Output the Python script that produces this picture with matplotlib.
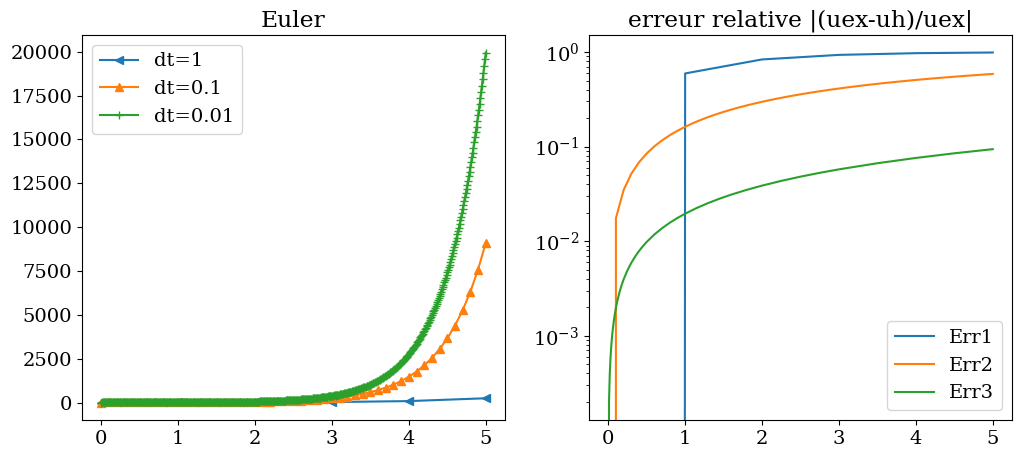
import numpy as np
import matplotlib
matplotlib.use("Agg")
import matplotlib.pyplot as plt

plt.rcParams['font.family'] = 'serif'
plt.rcParams['font.size'] = 14
plt.rcParams['mathtext.fontset'] = 'dejavuserif'

# Euler, dt=1
u1 = [1, 3, 9, 27, 81, 243]
err1 = [0, 0.593994, 0.835160, 0.933074, 0.972828, 0.988968]

# Euler, dt=0.1
u2 = [1, 1.2, 1.44, 1.728, 2.0736, 2.48832, 2.985984, 3.583181, 4.299817, 5.159780,
      6.191736, 7.430084, 8.916100, 10.69932, 12.83918, 15.40702, 18.48843, 22.18611,
      26.62333, 31.94800, 38.33760, 46.00512, 55.20614, 66.24737, 79.49685, 95.39622,
      114.4755, 137.3706, 164.8447, 197.8136, 237.3763, 284.8516, 341.8219, 410.1863,
      492.2235, 590.6682, 708.8019, 850.5622, 1020.675, 1224.810, 1469.772, 1763.726,
      2116.471, 2539.765, 3047.718, 3657.262, 4388.714, 5266.457, 6319.749, 7583.698,
      9100.438]
err2 = [0, 0.017523, 0.034739, 0.051653, 0.068271, 0.084597, 0.100636, 0.116395,
        0.131878, 0.147093, 0.162038, 0.176722, 0.191149, 0.205322, 0.219247, 0.232929,
        0.246370, 0.259576, 0.272551, 0.285298, 0.297822, 0.310126, 0.322215, 0.334092,
        0.345761, 0.357225, 0.368489, 0.379555, 0.390427, 0.401109, 0.411603, 0.421914,
        0.432044, 0.441996, 0.451774, 0.461381, 0.470819, 0.480092, 0.489203, 0.498154,
        0.506948, 0.515588, 0.524076, 0.532416, 0.540609, 0.548659, 0.556568, 0.564339,
        0.571973, 0.579473, 0.586842]

# Euler, dt=0.01
u3 = [1, 1.02, 1.0404, 1.0612, 1.0824, 1.1041, 1.1262, 1.1487, 1.1717, 1.1951,
      1.2190, 1.2434, 1.2682, 1.2936, 1.3195, 1.3459, 1.3728, 1.4002, 1.4282, 1.4568,
      1.4859, 1.5157, 1.5460, 1.5769, 1.6084, 1.6406, 1.6734, 1.7069, 1.7410, 1.7758,
      1.8114, 1.8476, 1.8845, 1.9222, 1.9607, 1.9999, 2.0399, 2.0807, 2.1223, 2.1647,
      2.2080, 2.2522, 2.2972, 2.3432, 2.3901, 2.4379, 2.4866, 2.5363, 2.5871, 2.6388,
      2.6916, 2.7454, 2.8003, 2.8563, 2.9135, 2.9717, 3.0312, 3.0918, 3.1536, 3.2167,
      3.2810, 3.3467, 3.4136, 3.4819, 3.5515, 3.6225, 3.6950, 3.7689, 3.8443, 3.9211,
      3.9996, 4.0795, 4.1611, 4.2444, 4.3293, 4.4158, 4.5042, 4.5942, 4.6861, 4.7798,
      4.8754, 4.9729, 5.0724, 5.1739, 5.2773, 5.3829, 5.4905, 5.6003, 5.7124, 5.8266,
      5.9431, 6.0620, 6.1832, 6.3069, 6.4330, 6.5617, 6.6929, 6.8268, 6.9633, 7.1026,
      7.2446, 7.3895, 7.5373, 7.6881, 7.8418, 7.9987, 8.1586, 8.3218, 8.4883, 8.6580,
      8.8312, 9.0078, 9.1880, 9.3717, 9.5592, 9.7503, 9.9453, 10.144, 10.347, 10.554,
      10.765, 10.980, 11.200, 11.424, 11.653, 11.886, 12.123, 12.366, 12.613, 12.865,
      13.123, 13.385, 13.653, 13.926, 14.204, 14.488, 14.778, 15.074, 15.375, 15.683,
      15.996, 16.316, 16.643, 16.976, 17.315, 17.661, 18.015, 18.375, 18.742, 19.117,
      19.500, 19.890, 20.287, 20.693, 21.107, 21.529, 21.960, 22.399, 22.847, 23.304,
      23.770, 24.245, 24.730, 25.225, 25.729, 26.244, 26.769, 27.304, 27.850, 28.407,
      28.975, 29.555, 30.146, 30.749, 31.364, 31.991, 32.631, 33.284, 33.949, 34.628,
      35.321, 36.027, 36.748, 37.483, 38.232, 38.997, 39.777, 40.572, 41.384, 42.212,
      43.056, 43.917, 44.795, 45.691, 46.605, 47.537, 48.488, 49.458, 50.447, 51.456,
      52.485, 53.534, 54.605, 55.697, 56.811, 57.947, 59.106, 60.288, 61.494, 62.724,
      63.979, 65.258, 66.563, 67.895, 69.252, 70.637, 72.050, 73.491, 74.961, 76.460,
      77.989, 79.549, 81.140, 82.763, 84.418, 86.107, 87.829, 89.585, 91.377, 93.205,
      95.069, 96.970, 98.909, 100.89, 102.91, 104.96, 107.06, 109.20, 111.39, 113.62,
      115.89, 118.21, 120.57, 122.98, 125.44, 127.95, 130.51, 133.12, 135.78, 138.50,
      141.27, 144.09, 146.97, 149.91, 152.91, 155.97, 159.09, 162.27, 165.52, 168.83,
      172.20, 175.65, 179.16, 182.74, 186.40, 190.13, 193.93, 197.81, 201.76, 205.80,
      209.92, 214.11, 218.40, 222.76, 227.22, 231.76, 236.40, 241.13, 245.95, 250.87,
      255.89, 261.00, 266.22, 271.55, 276.98, 282.52, 288.17, 293.93, 299.81, 305.81,
      311.92, 318.16, 324.52, 331.01, 337.64, 344.39, 351.28, 358.30, 365.47, 372.78,
      380.23, 387.84, 395.59, 403.51, 411.58, 419.81, 428.20, 436.77, 445.50, 454.41,
      463.50, 472.77, 482.23, 491.87, 501.71, 511.74, 521.98, 532.42, 543.06, 553.93,
      565.00, 576.30, 587.83, 599.59, 611.58, 623.81, 636.29, 649.01, 661.99, 675.23,
      688.74, 702.51, 716.56, 730.89, 745.51, 760.42, 775.63, 791.14, 806.96, 823.10,
      839.57, 856.36, 873.48, 890.95, 908.77, 926.95, 945.49, 964.40, 983.69, 1003.4,
      1023.4, 1043.9, 1064.8, 1086.1, 1107.8, 1130.0, 1152.6, 1175.6, 1199.1, 1223.1,
      1247.6, 1272.5, 1298.0, 1323.9, 1350.4, 1377.4, 1405.0, 1433.1, 1461.7, 1490.9,
      1520.8, 1551.2, 1582.2, 1613.8, 1646.1, 1679.0, 1712.6, 1746.9, 1781.8, 1817.5,
      1853.8, 1890.9, 1928.7, 1967.3, 2006.6, 2046.7, 2087.7, 2129.4, 2172.0, 2215.5,
      2259.8, 2305.0, 2351.1, 2398.1, 2446.1, 2495.0, 2544.9, 2595.8, 2647.7, 2700.6,
      2754.7, 2809.7, 2865.9, 2923.3, 2981.7, 3041.4, 3102.2, 3164.2, 3227.5, 3292.1,
      3357.9, 3425.1, 3493.6, 3563.4, 3634.7, 3707.4, 3781.5, 3857.2, 3934.3, 4013.0,
      4093.3, 4175.1, 4258.6, 4343.8, 4430.7, 4519.3, 4609.7, 4701.9, 4795.9, 4891.8,
      4989.7, 5089.5, 5191.2, 5295.1, 5401.0, 5509.0, 5619.2, 5731.6, 5846.2, 5963.1,
      6082.4, 6204.0, 6328.1, 6454.7, 6583.7, 6715.4, 6849.7, 6986.7, 7126.5, 7269.0,
      7414.4, 7562.7, 7713.9, 7868.2, 8025.6, 8186.1, 8349.8, 8516.8, 8687.1, 8860.9,
      9038.1, 9218.9, 9403.2, 9591.3, 9783.1, 9978.8, 10178, 10382, 10590, 10801,
      11017, 11238, 11462, 11692, 11926, 12164, 12407, 12656, 12909, 13167,
      13430, 13699, 13973, 14252, 14537, 14828, 15125, 15427, 15736, 16050,
      16371, 16699, 17033, 17373, 17721, 18075, 18437, 18805, 19182, 19565,
      19957]

# relative error for dt=0.01
t_err3 = [0, 0.01, 0.02, 0.03, 0.04, 0.05, 0.06, 0.07, 0.085, 0.1, 0.12, 0.15, 0.175,
          0.2, 0.25, 0.3, 0.35, 0.4, 0.45, 0.5, 0.6, 0.7, 0.8, 0.9, 1.0, 1.15, 1.3,
          1.45, 1.6, 1.8, 2.0, 2.25, 2.5, 2.75, 3.0, 3.5, 4.0, 4.5, 5.0]
err3 = [0, 0.000197, 0.000395, 0.000592, 0.000789, 0.000986, 0.001184, 0.001380,
        0.001676, 0.001972, 0.002366, 0.002956, 0.003448, 0.003940, 0.004922,
        0.005904, 0.006884, 0.007864, 0.008842, 0.009820, 0.011772, 0.013720,
        0.015666, 0.017607, 0.019543, 0.022442, 0.025332, 0.028213, 0.031086,
        0.034903, 0.038705, 0.043437, 0.048145, 0.052830, 0.057492, 0.066748,
        0.075913, 0.084988, 0.093973]

t1 = np.linspace(0, 5, len(u1))
t2 = np.linspace(0, 5, len(u2))
t3 = np.linspace(0, 5, len(u3))

fig = plt.figure(figsize=(10.21, 4.58), dpi=100)
ax1 = fig.add_axes([82 / 1021, 38 / 458, 423 / 1021, 385 / 458])
ax2 = fig.add_axes([589 / 1021, 38 / 458, 423 / 1021, 385 / 458])

ax1.plot(t1, u1, '<-', label='dt=1')
ax1.plot(t2, u2, '^-', label='dt=0.1')
ax1.plot(t3, u3, '+-', label='dt=0.01')
ax1.set_title('Euler')
ax1.legend(loc='upper left')

ax2.plot(t1, err1, label='Err1')
ax2.plot(t2, err2, label='Err2')
ax2.plot(t_err3, err3, label='Err3')
ax2.set_yscale('log')
ax2.set_title('erreur relative |(uex-uh)/uex|')
ax2.legend(loc='lower right')

fig.savefig('out.png', dpi=100)
